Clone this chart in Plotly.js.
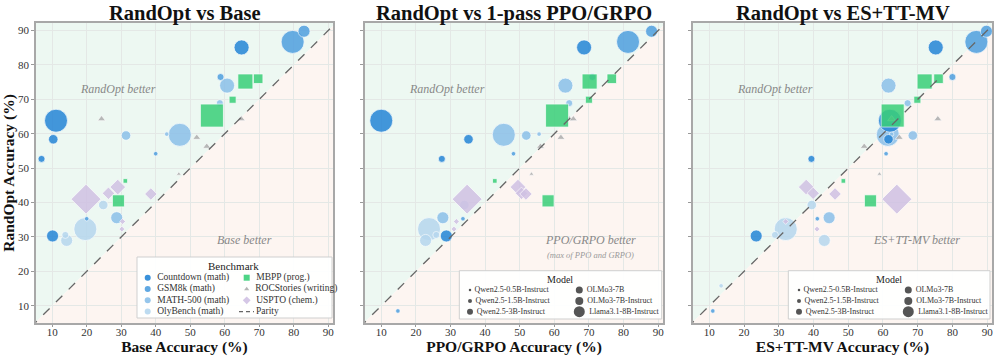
<!DOCTYPE html>
<html><head><meta charset="utf-8">
<script src="https://cdn.plot.ly/plotly-3.0.1.min.js"></script>
<style>html,body{margin:0;padding:0;background:#fff}#chart{width:997px;height:357px}</style>
</head><body><div id="chart"></div>
<script>
// ---------------- DATA ----------------
const benchmarks = ['Countdown (math)','GSM8k (math)','MATH-500 (math)','OlyBench (math)','MBPP (prog.)','ROCStories (writing)','USPTO (chem.)'];
const models = ['Qwen2.5-0.5B-Instruct','Qwen2.5-1.5B-Instruct','Qwen2.5-3B-Instruct','OLMo3-7B','OLMo3-7B-Instruct','Llama3.1-8B-Instruct'];
const panelTitles = ['RandOpt vs Base','RandOpt vs 1-pass PPO/GRPO','RandOpt vs ES+TT-MV'];
const xTitles = ['Base Accuracy (%)','PPO/GRPO Accuracy (%)','ES+TT-MV Accuracy (%)'];
const tickVals = [10,20,30,40,50,60,70,80,90];

const countdownModel   = ['Llama3.1-8B-Instruct','OLMo3-7B-Instruct','OLMo3-7B','Qwen2.5-3B-Instruct','Qwen2.5-1.5B-Instruct'];
const countdownRandOpt = [63.8, 85.1, 30.3, 58.4, 52.7];
const countdownBase    = [11.1, 64.9, 10.1, 10.3, 6.9];
const countdownPPO     = [10.0, 68.6, 28.8, 35.2, 27.5];
const countdownES      = [62.0, 75.2, 23.5, 61.6, 39.4];

const gsm8kModel   = ['Llama3.1-8B-Instruct','OLMo3-7B','Qwen2.5-1.5B-Instruct','Qwen2.5-0.5B-Instruct','Qwen2.5-0.5B-Instruct','Qwen2.5-0.5B-Instruct'];
const gsm8kRandOpt = [86.7, 89.8, 76.5, 54.2, 8.5, 35.3];
const gsm8kBase    = [79.7, 83.0, 58.8, 40.0, 45.0, 20.0];
const gsm8kPPO     = [81.3, 88.1, 71.0, 48.2, 14.8, 33.6];
const gsm8kES      = [86.9, 89.8, 80.0, 60.9, 11.0, 41.1];

const math500Model   = ['Llama3.1-8B-Instruct','OLMo3-7B-Instruct','Qwen2.5-3B-Instruct','Qwen2.5-1.5B-Instruct','Qwen2.5-0.5B-Instruct','OLMo3-7B'];
const math500RandOpt = [59.7, 74.0, 59.5, 68.9, 59.9, 35.6];
const math500Base    = [47.0, 60.7, 31.4, 58.6, 43.2, 28.7];
const math500PPO     = [45.4, 63.2, 51.9, 64.3, 55.6, 27.8];
const math500ES      = [61.4, 61.6, 68.6, 67.1, 62.5, 44.5];

const olyModel   = ['Llama3.1-8B-Instruct','OLMo3-7B','Qwen2.5-3B-Instruct','Qwen2.5-1.5B-Instruct','Qwen2.5-0.5B-Instruct'];
const olyRandOpt = [32.3, 29.0, 39.3, 30.6, 15.8];
const olyBase    = [19.6, 14.2, 24.8, 13.8, 50.0];
const olyPPO     = [23.8, 22.8, 34.0, 25.9, 60.0];
const olyES      = [32.0, 43.1, 39.5, 28.9, 13.4];

const mbppModel   = ['Llama3.1-8B-Instruct','OLMo3-7B-Instruct','OLMo3-7B','Qwen2.5-3B-Instruct','Qwen2.5-1.5B-Instruct','Qwen2.5-0.5B-Instruct'];
const mbppRandOpt = [65.3, 75.2, 40.5, 76.0, 69.9, 46.3];
const mbppBase    = [56.3, 66.0, 29.2, 69.7, 62.3, 31.2];
const mbppPPO     = [60.8, 70.2, 58.2, 76.6, 70.0, 42.8];
const mbppES      = [62.8, 72.0, 56.4, 76.0, 69.9, 48.6];

const rocModel   = ['Qwen2.5-1.5B-Instruct','Qwen2.5-1.5B-Instruct','Qwen2.5-1.5B-Instruct','Qwen2.5-1.5B-Instruct','Qwen2.5-0.5B-Instruct'];
const rocRandOpt = [64.3, 64.3, 58.9, 56.3, 48.3];
const rocBase    = [24.3, 64.8, 51.9, 54.8, 46.7];
const rocPPO     = [64.3, 65.5, 61.9, 56.0, 53.4];
const rocES      = [62.5, 75.8, 64.7, 54.6, 59.0];

const usptoModel   = ['Llama3.1-8B-Instruct','OLMo3-7B','Qwen2.5-3B-Instruct','Qwen2.5-3B-Instruct','Qwen2.5-0.5B-Instruct','Qwen2.5-0.5B-Instruct'];
const usptoRandOpt = [41.0, 44.5, 42.7, 42.5, 34.5, 32.3];
const usptoBase    = [19.8, 29.0, 26.3, 38.6, 30.4, 30.2];
const usptoPPO     = [34.8, 49.5, 50.5, 51.8, 31.7, 31.0];
const usptoES      = [64.0, 37.9, 39.9, 46.2, 32.0, 41.0];

const parityRange = [0, 100];

// ---------------- STYLE ----------------
const SERIF = 'Liberation Serif, DejaVu Serif, serif';
const benchStyle = {
  'Countdown (math)':     {color:'#2585d6', symbol:'circle'},
  'GSM8k (math)':         {color:'#4f9fdf', symbol:'circle'},
  'MATH-500 (math)':      {color:'#8bc0e9', symbol:'circle'},
  'OlyBench (math)':      {color:'#b6d7ee', symbol:'circle'},
  'MBPP (prog.)':         {color:'#3acf79', symbol:'square'},
  'ROCStories (writing)': {color:'#adadad', symbol:'triangle-up'},
  'USPTO (chem.)':        {color:'#d0c1e3', symbol:'diamond'}
};
const sizeMap = {'Qwen2.5-0.5B-Instruct':4.5,'Qwen2.5-1.5B-Instruct':7,'Qwen2.5-3B-Instruct':9.5,
                 'OLMo3-7B':12,'OLMo3-7B-Instruct':15,'Llama3.1-8B-Instruct':23};
const legendSize = {'Qwen2.5-0.5B-Instruct':2.5,'Qwen2.5-1.5B-Instruct':4,'Qwen2.5-3B-Instruct':6,
                 'OLMo3-7B':7,'OLMo3-7B-Instruct':8,'Llama3.1-8B-Instruct':11};

const benchData = {
  'OlyBench (math)':      {m:olyModel, y:olyRandOpt, x:[olyBase, olyPPO, olyES]},
  'MATH-500 (math)':      {m:math500Model, y:math500RandOpt, x:[math500Base, math500PPO, math500ES]},
  'GSM8k (math)':         {m:gsm8kModel, y:gsm8kRandOpt, x:[gsm8kBase, gsm8kPPO, gsm8kES]},
  'Countdown (math)':     {m:countdownModel, y:countdownRandOpt, x:[countdownBase, countdownPPO, countdownES]},
  'ROCStories (writing)': {m:rocModel, y:rocRandOpt, x:[rocBase, rocPPO, rocES]},
  'USPTO (chem.)':        {m:usptoModel, y:usptoRandOpt, x:[usptoBase, usptoPPO, usptoES]},
  'MBPP (prog.)':         {m:mbppModel, y:mbppRandOpt, x:[mbppBase, mbppPPO, mbppES]}
};

const W = 997, H = 357;
const panelPx = [[36,333],[365,663],[693,992]];
const plotTop = 23, plotBot = 323;
const axSuffix = ['', '2', '3'];

const traces = [];
const shapes = [];
const annotations = [];
const layout = {
  width: W, height: H, margin:{l:0,r:0,t:0,b:0},
  paper_bgcolor:'white', plot_bgcolor:'rgba(0,0,0,0)',
  showlegend:false, font:{family:SERIF, color:'#222'},
  hovermode:'closest'
};

for (let p = 0; p < 3; p++) {
  const s = axSuffix[p];
  const xa = 'x' + s, ya = 'y' + s;
  layout['xaxis' + s] = {
    domain:[panelPx[p][0]/W, panelPx[p][1]/W], range:[5.3, 91.4], anchor: ya,
    tickvals: tickVals, ticks:'outside', ticklen:2, tickcolor:'#999', ticklabelstandoff:-4,
    tickfont:{size:11, family:SERIF, color:'#333'},
    showgrid:true, gridcolor:'#e4e8e6', gridwidth:1, zeroline:false,
    showline:true, mirror:true, linecolor:'#a8a8a8', linewidth:1.5,
    title:{text:'<b>'+xTitles[p]+'</b>', font:{size:15.5, family:SERIF, color:'#111'}, standoff:0},
    automargin:false, fixedrange:true
  };
  layout['yaxis' + s] = {
    domain:[(H-plotBot)/H, (H-plotTop)/H], range:[5.0, 92.2], anchor: xa,
    tickvals: tickVals, ticks:'outside', ticklen:3, tickcolor:'#999',
    showticklabels: p === 0, tickfont:{size:11, family:SERIF, color:'#333'},
    showgrid:true, gridcolor:'#e4e8e6', gridwidth:1, zeroline:false,
    showline:true, mirror:true, linecolor:'#a8a8a8', linewidth:1.5,
    title: p === 0 ? {text:'<b>RandOpt Accuracy (%)</b>', font:{size:15.5, family:SERIF, color:'#111'}, standoff:5} : {text:''},
    automargin:false, fixedrange:true
  };
  // background regions
  shapes.push({type:'path', xref:xa, yref:ya, layer:'below', path:'M -20,-20 L -20,120 L 120,120 Z', fillcolor:'#edf8f2', line:{width:0}});
  shapes.push({type:'path', xref:xa, yref:ya, layer:'below', path:'M -20,-20 L 120,-20 L 120,120 Z', fillcolor:'#fdf5f1', line:{width:0}});

  for (const b of Object.keys(benchData)) {
    const d = benchData[b], st = benchStyle[b];
    traces.push({
      type:'scatter', mode:'markers', xaxis:xa, yaxis:ya, name:b,
      x: d.x[p], y: d.y, text: d.m,
      hovertemplate: b + '<br>%{text}<br>x=%{x}<br>RandOpt=%{y}<extra></extra>',
      marker:{color:st.color, symbol:st.symbol, size:d.m.map(m => sizeMap[m]), opacity:0.85,
              line:{color:'white', width:0.7}},
      cliponaxis:true
    });
  }
  traces.push({type:'scatter', mode:'lines', xaxis:xa, yaxis:ya, name:'Parity', x:parityRange, y:parityRange,
               line:{color:'#666', width:1.3, dash:'dash'}, hoverinfo:'skip'});

  const cx = (panelPx[p][0] + panelPx[p][1]) / 2 / W;
  annotations.push({xref:'paper', yref:'paper', x:cx, y:(H-14)/H, text:'<b>'+panelTitles[p]+'</b>', showarrow:false,
                    font:{size:20.5, family:SERIF, color:'#111'}, xanchor:'center', yanchor:'middle'});
  annotations.push({xref:xa, yref:ya, x:29, y:73, text:'<i>RandOpt better</i>', showarrow:false,
                    font:{size:12, family:SERIF, color:'#888'}});
}
annotations.push({xref:'x', yref:'y', x:65.8, y:29.1, text:'<i>Base better</i>', showarrow:false, font:{size:12, family:SERIF, color:'#888'}});
annotations.push({xref:'x2', yref:'y2', x:70.5, y:29.1, text:'<i>PPO/GRPO better</i>', showarrow:false, font:{size:12, family:SERIF, color:'#888'}});
annotations.push({xref:'x2', yref:'y2', x:70.5, y:24.9, text:'<i>(max of PPO and GRPO)</i>', showarrow:false, font:{size:8.5, family:SERIF, color:'#999'}});
annotations.push({xref:'x3', yref:'y3', x:69.7, y:29.1, text:'<i>ES+TT-MV better</i>', showarrow:false, font:{size:12, family:SERIF, color:'#888'}});

// ---------------- LEGENDS (drawn on a pixel-space overlay axis) ----------------
layout.xaxis4 = {domain:[0,1], range:[0,W], visible:false, fixedrange:true, anchor:'y4', showgrid:false, zeroline:false};
layout.yaxis4 = {domain:[0,1], range:[H,0], visible:false, fixedrange:true, anchor:'x4', showgrid:false, zeroline:false};
function legendBox(x0, y0, x1, y1) {
  shapes.push({type:'rect', xref:'x4', yref:'y4', layer:'below', x0:x0, y0:y0, x1:x1, y1:y1,
               fillcolor:'rgba(255,255,255,0.93)', line:{color:'#cfcfcf', width:1}});
}
// Benchmark legend (panel 1)
legendBox(137, 257, 332, 318);
annotations.push({xref:'x4', yref:'y4', x:233, y:265.5, text:'Benchmark', showarrow:false, font:{size:11, family:SERIF, color:'#222'}});
const benchCols = [['Countdown (math)','GSM8k (math)','MATH-500 (math)','OlyBench (math)'],
                   ['MBPP (prog.)','ROCStories (writing)','USPTO (chem.)']];
const rowY = [277.7, 289, 300.3, 311.6];
const benchColX = [147.7, 246.7];
benchCols.forEach((col, ci) => col.forEach((b, ri) => {
  const st = benchStyle[b];
  traces.push({type:'scatter', mode:'markers+text', xaxis:'x4', yaxis:'y4', x:[benchColX[ci]], y:[rowY[ri]],
    text:['  ' + b], textposition:'middle right', textfont:{size:9.5, family:SERIF, color:'#333'},
    marker:{color:st.color, symbol:st.symbol, size: st.symbol==='triangle-up' ? 4.5 : 6, opacity:0.9}, hoverinfo:'skip', cliponaxis:false});
}));
traces.push({type:'scatter', mode:'lines', xaxis:'x4', yaxis:'y4', x:[239, 254], y:[rowY[3], rowY[3]],
  line:{color:'#666', width:1.3, dash:'4px,3px'}, hoverinfo:'skip'});
traces.push({type:'scatter', mode:'text', xaxis:'x4', yaxis:'y4', x:[256], y:[rowY[3]], text:['Parity'],
  textposition:'middle right', textfont:{size:9.5, family:SERIF, color:'#333'}, hoverinfo:'skip', cliponaxis:false});

// Model legends (panels 2 & 3)
const modelCols = [models.slice(0,3), models.slice(3)];
const modelRowY = [290, 301, 311.7];
[[459.3, 661.7], [788.3, 990]].forEach(([bx0, bx1]) => {
  legendBox(bx0, 270.7, bx1, 319);
  annotations.push({xref:'x4', yref:'y4', x:bx0 + 100.5, y:279.3, text:'Model', showarrow:false, font:{size:10, family:SERIF, color:'#222'}});
  modelCols.forEach((col, ci) => col.forEach((m, ri) => {
    traces.push({type:'scatter', mode:'markers+text', xaxis:'x4', yaxis:'y4',
      x:[bx0 + (ci === 0 ? 10.7 : 120)], y:[modelRowY[ri]],
      text:[' ' + m], textposition:'middle right', textfont:{size:8, family:SERIF, color:'#333'},
      marker:{color:'#555', size:legendSize[m]}, hoverinfo:'skip', cliponaxis:false});
  }));
});

layout.shapes = shapes;
layout.annotations = annotations;
Plotly.newPlot('chart', traces, layout, {displayModeBar:false});
</script>
</body></html>
